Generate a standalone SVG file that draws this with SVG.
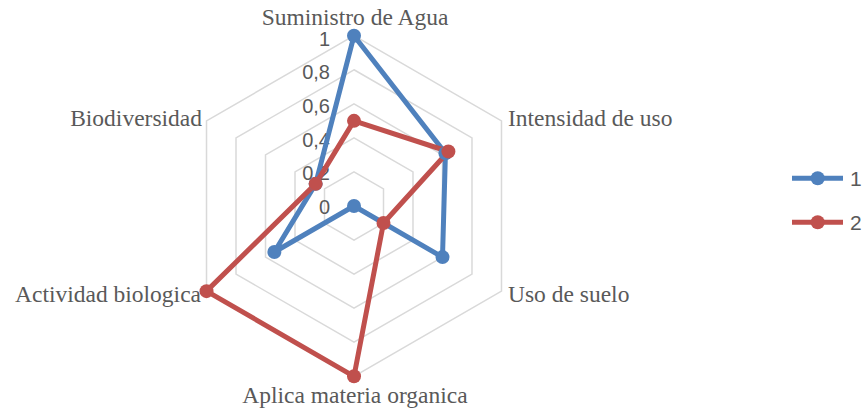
<svg xmlns="http://www.w3.org/2000/svg" width="865" height="412" viewBox="0 0 865 412">
<style>
.grid{fill:none;stroke:#d9d9d9;stroke-width:1.5}
.cat{font-family:"Liberation Serif","Times New Roman",serif;font-size:23.5px;fill:#595959}
.tick{font-family:"Liberation Sans",Arial,sans-serif;font-size:20px;fill:#595959;text-anchor:end}
.leg{font-family:"Liberation Sans",Arial,sans-serif;font-size:21px;fill:#595959}
.s1{fill:none;stroke:#4f81bd;stroke-width:5;stroke-linejoin:round}
.s2{fill:none;stroke:#c0504d;stroke-width:5;stroke-linejoin:round}
.d1{fill:#4f81bd}
.d2{fill:#c0504d}
</style>
<rect width="865" height="412" fill="#ffffff"/>
<g id="grid">
<polygon class="grid" points="354,35.7 501.49,120.85 501.49,291.15 354,376.3 206.51,291.15 206.51,120.85"/>
<polygon class="grid" points="354,69.76 471.99,137.88 471.99,274.12 354,342.24 236.01,274.12 236.01,137.88"/>
<polygon class="grid" points="354,103.82 442.49,154.91 442.49,257.09 354,308.18 265.51,257.09 265.51,154.91"/>
<polygon class="grid" points="354,137.88 412.99,171.94 412.99,240.06 354,274.12 295.01,240.06 295.01,171.94"/>
<polygon class="grid" points="354,171.94 383.5,188.97 383.5,223.03 354,240.06 324.5,223.03 324.5,188.97"/>
</g>
<g id="ticks">
<text class="tick" x="330" y="46">1</text>
<text class="tick" x="330" y="79">0,8</text>
<text class="tick" x="330" y="113">0,6</text>
<text class="tick" x="330" y="147">0,4</text>
<text class="tick" x="330" y="180">0,2</text>
<text class="tick" x="330" y="214">0</text>
</g>
<g id="axis-suministro"><text class="cat" x="355" y="25" text-anchor="middle">Suministro de Agua</text></g>
<g id="axis-intensidad"><text class="cat" x="508" y="126">Intensidad de uso</text></g>
<g id="axis-uso"><text class="cat" x="508" y="302">Uso de suelo</text></g>
<g id="axis-aplica"><text class="cat" x="355" y="403" text-anchor="middle">Aplica materia organica</text></g>
<g id="axis-actividad"><text class="cat" x="201" y="302" text-anchor="end">Actividad biologica</text></g>
<g id="axis-biodiversidad"><text class="cat" x="202" y="126" text-anchor="end">Biodiversidad</text></g>
<g id="connectors">
<polygon class="s1" points="354,35.7 445.44,153.21 442.49,257.09 354,206 274.36,251.98 315.65,183.86"/>
<polygon class="s2" points="354,120.85 448.39,151.5 383.5,223.03 354,376.3 206.51,291.15 315.65,183.86"/>
</g>
<g id="series-1">
<circle class="d1" cx="354" cy="35.7" r="7"/>
<circle class="d1" cx="445.44" cy="153.21" r="7"/>
<circle class="d1" cx="442.49" cy="257.09" r="7"/>
<circle class="d1" cx="354" cy="206" r="7"/>
<circle class="d1" cx="274.36" cy="251.98" r="7"/>
<circle class="d1" cx="315.65" cy="183.86" r="7"/>
</g>
<g id="series-2">
<circle class="d2" cx="354" cy="120.85" r="7"/>
<circle class="d2" cx="448.39" cy="151.5" r="7"/>
<circle class="d2" cx="383.5" cy="223.03" r="7"/>
<circle class="d2" cx="354" cy="376.3" r="7"/>
<circle class="d2" cx="206.51" cy="291.15" r="7"/>
<circle class="d2" cx="315.65" cy="183.86" r="7"/>
</g>
<g id="legend">
<g id="legend-1">
<line class="s1" x1="792" y1="178.3" x2="843" y2="178.3"/>
<circle class="d1" cx="817.7" cy="178.3" r="7"/>
<text class="leg" x="850" y="185.5">1</text>
</g>
<g id="legend-2">
<line class="s2" x1="792" y1="222.3" x2="843" y2="222.3"/>
<circle class="d2" cx="817.7" cy="222.3" r="7"/>
<text class="leg" x="850" y="229.5">2</text>
</g>
</g>
</svg>
